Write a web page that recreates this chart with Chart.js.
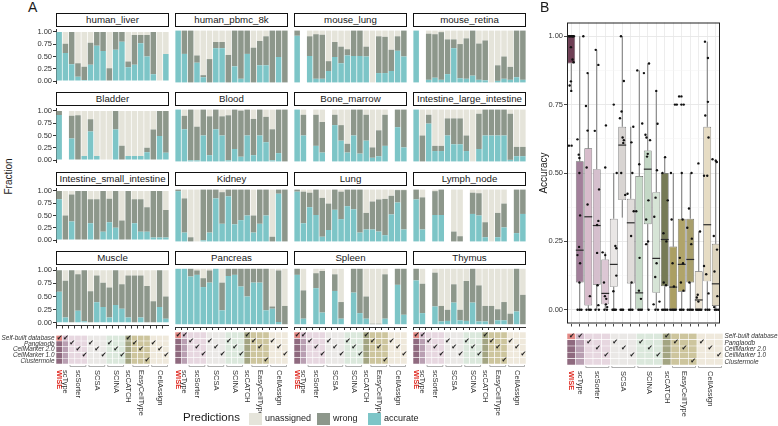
<!DOCTYPE html>
<html>
<head>
<meta charset="utf-8">
<script src="https://cdn.jsdelivr.net/npm/chart.js@4.4.1/dist/chart.umd.min.js"></script>
<style>
  body { margin: 0; background: #fff; }
  #fig { position: relative; width: 778px; height: 426px; overflow: hidden;
         font-family: 'Liberation Sans', Arial, Helvetica, sans-serif; color: #1a1a1a; }
  #fig canvas { position: absolute; display: block; }
  .strip { position: absolute; box-sizing: border-box; border: 1.4px solid #111; background: #fff;
           font-size: 9.7px; text-align: center; line-height: 11px; white-space: nowrap; overflow: hidden; }
  .txt { position: absolute; white-space: nowrap; }
  .sw { position: absolute; width: 13px; height: 12px; }
</style>
</head>
<body>
<div id="fig"></div>
<script>
// ---- data ----
const methods = ['WISE', 'scType', 'scSorter', 'scSorter', 'scSorter', 'SCSA', 'SCSA', 'SCSA',
  'SCINA', 'SCINA', 'SCINA', 'scCATCH', 'EasyCellType', 'EasyCellType', 'EasyCellType',
  'CellAssign', 'CellAssign', 'CellAssign'];
const databases = ['Self-built database', 'Panglaodb', 'CellMarker 2.0', 'CellMarker 1.0', 'Clustermole'];
// database row used by each method column
const dbUsed = [0, 0, 1, 2, 3, 1, 2, 3, 1, 2, 3, 0, 1, 2, 4, 1, 2, 3];

const tissues = ['human_liver', 'human_pbmc_8k', 'mouse_lung', 'mouse_retina',
  'Bladder', 'Blood', 'Bone_marrow', 'Intestine_large_intestine',
  'Intestine_small_intestine', 'Kidney', 'Lung', 'Lymph_node',
  'Muscle', 'Pancreas', 'Spleen', 'Thymus'];

// fraction accurate / fraction assigned (accurate + wrong); null = not run
const human_liver_acc = [1.00, 0.57, 0.34, 0.09, 0.02, 0.33, 0.72, 0.61, 0.00, 0.64, 0.80, 0.28, 0.33, 0.77, 0.50, 0.14, 0.00, 0.55];
const human_liver_asg = [1.00, 0.76, 1.00, 0.36, 0.29, 0.78, 1.00, 1.00, 0.26, 1.00, 1.00, 0.40, 0.94, 0.94, 0.94, 1.00, 0.00, 0.55];
const human_pbmc_acc = [1.00, 0.55, 0.00, 0.38, 0.10, 0.00, 0.66, 0.66, 0.00, 0.31, 0.07, 0.55, 0.00, 0.33, 0.33, 0.00, 0.49, 0.00];
const human_pbmc_asg = [1.00, 1.00, 1.00, 0.52, 0.14, 0.45, 0.78, 0.78, 0.53, 1.00, 1.00, 1.00, 0.67, 0.80, 0.89, 1.00, 1.00, 1.00];
const mouse_lung_acc = [0.90, null, 0.51, 0.07, 0.07, 0.22, 0.49, 0.37, 0.52, 0.51, 0.51, 0.50, 0.00, 0.18, 0.18, 0.22, 0.61, 0.50];
const mouse_lung_asg = [1.00, null, 0.89, 0.93, 0.92, 0.41, 0.78, 0.69, 0.64, 1.00, 1.00, 0.69, 0.00, 0.89, 0.88, 0.63, 0.89, 1.00];
const mouse_retina_acc = [1.00, null, 0.05, 0.09, 0.05, 0.16, 0.66, 0.08, 0.07, 0.13, 0.05, 0.04, 0.00, 0.03, 0.07, 0.05, 0.10, 0.05];
const mouse_retina_asg = [1.00, null, 0.94, 0.93, 0.97, 0.83, 0.83, 0.74, 0.85, 1.00, 0.75, 0.81, 0.00, 0.33, 0.50, 0.30, 1.00, 1.00];
const bladder_acc = [0.92, null, 0.44, 0.01, 0.08, 0.58, 0.08, 0.00, 0.00, 0.62, 0.00, 0.08, 0.08, 0.08, 0.16, 0.00, 0.49, 0.15];
const bladder_asg = [1.00, null, 0.90, 0.91, 0.08, 0.83, 0.08, 0.00, 0.00, 1.00, 0.29, 0.08, 0.08, 0.08, 0.25, 0.62, 1.00, 1.00];
const blood_acc = [1.00, 0.62, 0.02, 0.02, 0.50, 0.12, 0.62, 0.50, 0.02, 0.24, 0.09, 0.50, 0.12, 0.50, 0.37, 0.02, 0.16, 0.00];
const blood_asg = [1.00, 0.88, 1.00, 0.67, 1.00, 0.87, 1.00, 0.87, 0.89, 1.00, 0.98, 1.00, 0.82, 1.00, 0.86, 0.62, 1.00, 1.00];
const bone_marrow_acc = [1.00, 0.50, null, 0.30, 0.17, null, 0.70, 0.40, 0.17, 0.50, 0.15, 0.40, 0.07, 0.10, 0.30, null, 0.66, 0.27];
const bone_marrow_asg = [1.00, 0.90, null, 0.90, 0.76, null, 0.90, 0.70, 0.34, 1.00, 1.00, 0.90, 0.27, 0.60, 0.90, null, 1.00, 1.00];
const large_int_acc = [1.00, 0.00, 0.73, 0.20, 0.20, 0.50, 0.33, 0.33, 0.20, 0.00, 0.24, 0.50, 0.50, 0.50, 0.50, 0.03, 0.10, 0.10];
const large_int_asg = [1.00, 0.50, 0.90, 0.30, 0.30, 0.83, 0.83, 0.83, 0.50, 0.00, 0.92, 1.00, 1.00, 1.00, 1.00, 0.92, 0.28, 0.28];
const small_int_acc = [0.83, 0.00, 0.38, 0.00, 0.00, 0.34, 0.00, 0.17, 0.36, 0.25, 0.00, 0.00, 0.34, 0.17, 0.17, 0.05, 0.05, 0.05];
const small_int_asg = [1.00, 0.50, 0.93, 1.00, 1.00, 0.83, 0.83, 1.00, 0.84, 1.00, 0.40, 1.00, 0.83, 0.83, 0.67, 1.00, 1.00, 0.61];
const kidney_acc = [0.97, 0.17, 0.00, 0.00, 0.02, 0.17, 0.83, 0.34, 0.87, 0.33, 0.41, 0.50, 0.17, 0.34, 0.50, 0.00, 0.92, 0.00];
const kidney_asg = [1.00, 0.83, 0.08, 0.00, 1.00, 1.00, 1.00, 0.95, 1.00, 1.00, 1.00, 1.00, 0.50, 1.00, 1.00, 0.09, 1.00, 1.00];
const lung_acc = [0.96, 0.35, 0.66, 0.51, 0.09, 0.22, 0.61, 0.43, 0.68, 0.62, 0.17, 0.23, 0.23, 0.19, 0.12, 0.52, 0.75, 0.23];
const lung_asg = [1.00, 0.96, 0.94, 1.00, 0.84, 0.73, 1.00, 0.96, 1.00, 1.00, 1.00, 0.55, 0.77, 0.81, 0.82, 0.88, 0.99, 0.99];
const lymph_node_acc = [0.81, 0.23, null, 0.51, 0.51, null, 0.00, 0.00, null, 0.53, 0.50, 0.08, 0.00, 0.08, 0.27, null, 0.16, 0.53];
const lymph_node_asg = [1.00, 0.85, null, 0.97, 1.00, null, 0.19, 0.10, null, 0.94, 0.93, 0.37, 0.00, 0.55, 0.73, null, 1.00, 1.00];
const muscle_acc = [0.59, 0.10, 0.00, 0.23, 0.03, 0.00, 0.39, 0.30, 0.10, 0.34, 0.27, 0.10, 0.00, 0.10, 0.00, 0.00, 0.30, 0.08];
const muscle_asg = [1.00, 0.80, 1.00, 0.92, 1.00, 0.60, 0.90, 0.76, 0.67, 1.00, 0.73, 0.90, 0.90, 0.90, 0.70, 0.41, 1.00, 0.50];
const pancreas_acc = [1.00, 1.00, 0.86, 0.89, 0.67, 0.75, 1.00, 0.25, 0.87, 0.89, 0.68, 0.50, 0.75, 0.75, 0.25, 0.28, 0.04, 0.00];
const pancreas_asg = [1.00, 1.00, 1.00, 0.97, 0.83, 0.97, 1.00, 0.75, 1.00, 1.00, 1.00, 1.00, 1.00, 1.00, 1.00, 0.32, 0.97, 0.33];
const spleen_acc = [0.89, 0.10, null, 0.65, 0.21, null, 0.60, 0.10, null, 0.57, 0.20, 0.10, 0.00, 0.00, 0.10, null, 0.71, 0.17];
const spleen_asg = [1.00, 0.61, null, 0.92, 0.96, null, 0.90, 0.40, null, 1.00, 1.00, 0.50, 0.01, 0.01, 0.90, null, 1.00, 1.00];
const thymus_acc = [0.79, 0.20, null, 0.32, 0.05, 0.06, 0.39, 0.07, 0.06, 0.39, 0.05, 0.05, 0.00, 0.07, 0.07, 0.00, 0.23, 0.00];
const thymus_asg = [1.00, 0.73, null, 0.93, 0.33, 0.26, 0.72, 0.26, 0.78, 1.00, 0.70, 0.33, 0.33, 0.27, 0.40, 0.19, 1.00, 0.53];

// panel B box statistics (accuracy)
const boxQ1  = [0.90, 0.10, 0.016, 0.092, 0.02, 0.084, 0.401, 0.096, 0.00, 0.313, 0.062, 0.086, 0.00, 0.066, 0.10, 0.00, 0.104, 0.014];
const boxMed = [1.00, 0.218, 0.34, 0.308, 0.06, 0.166, 0.602, 0.318, 0.062, 0.514, 0.188, 0.257, 0.083, 0.166, 0.184, 0.036, 0.311, 0.095];
const boxQ3  = [1.00, 0.543, 0.59, 0.514, 0.184, 0.333, 0.669, 0.406, 0.489, 0.582, 0.43, 0.50, 0.231, 0.333, 0.333, 0.141, 0.669, 0.241];
const whiskLo = [0.80, 0, 0, 0, 0, 0, 0.337, 0, 0, 0, 0, 0, 0, 0, 0, 0, 0, 0];
const whiskHi = [1.00, 1.00, 0.865, 0.95, 0.21, 0.50, 1.00, 0.669, 0.875, 0.90, 0.80, 0.558, 0.50, 0.50, 0.50, 0.286, 0.98, 0.55];

// jittered points per method column: [x offset, accuracy]
const accuracyDots = [
  [[-0.3, 1], [-0.12, 1], [0.05, 1], [0.2, 1], [0.3, 1], [-0.2, 1], [0.12, 1], [-0.04, 0.96], [0.15, 0.915], [0.27, 0.905], [-0.04, 0.835], [-0.19, 0.82], [0, 0.80], [-0.27, 0.60], [0.04, 0.60]],
  [[0.42, 1], [-0.27, 0.623], [-0.12, 0.567], [-0.04, 0.555], [-0.04, 0.50], [0.04, 0.345], [-0.08, 0.23], [-0.27, 0.20], [0.04, 0.17], [-0.04, 0.10], [-0.25, 0], [0, 0], [0.2, 0]],
  [[-0.08, 0.865], [-0.27, 0.745], [-0.08, 0.655], [-0.19, 0.52], [-0.08, 0.385], [0.19, 0.05], [-0.2, 0], [0.1, 0], [0.3, 0]],
  [[-0.12, 0.95], [0.19, 0.895], [-0.23, 0.654], [0.27, 0.44], [0.19, 0.325], [0.04, 0.31], [0.04, 0.208], [0.1, 0.09], [0.19, 0.017], [-0.15, 0], [0.25, 0]],
  [[0.08, 0.674], [0, 0.52], [-0.31, 0.21], [0, 0.20], [-0.15, 0.10], [-0.04, 0.05], [0.12, 0.04], [0.08, 0.02], [0.23, 0.01], [-0.1, 0], [0.2, 0]],
  [[0, 0.75], [0.35, 0.50], [0.19, 0.233], [0.3, 0.225], [0.3, 0.125], [-0.04, 0.068], [-0.15, 0], [0, 0], [0.1, 0], [0.25, 0]],
  [[-0.15, 1], [0.19, 0.836], [-0.08, 0.725], [-0.27, 0.70], [0.04, 0.63], [0.19, 0.62], [0.12, 0.61], [-0.12, 0.50], [0.35, 0.42], [-0.2, 0], [-0.05, 0], [0.1, 0]],
  [[0.3, 0.669], [0.08, 0.612], [0.19, 0.50], [-0.38, 0.424], [0.35, 0.36], [0.04, 0.27], [0.1, 0.10], [-0.2, 0], [0, 0], [0.2, 0]],
  [[-0.23, 0.875], [0.35, 0.681], [0, 0.532], [-0.35, 0.36], [0.04, 0.19], [-0.04, 0.07], [0.2, 0.04], [-0.1, 0], [0.1, 0], [0.3, 0]],
  [[0.15, 0.90], [-0.45, 0.865], [-0.27, 0.64], [-0.15, 0.63], [0.27, 0.62], [0, 0.57], [-0.08, 0.56], [0.08, 0.40], [-0.19, 0.33], [0.04, 0.25], [-0.19, 0.24], [0.1, 0]],
  [[0, 0.80], [0.15, 0.68], [0.08, 0.51], [-0.08, 0.41], [-0.23, 0.34], [0.04, 0.17], [-0.12, 0.12], [-0.31, 0.02], [0.38, 0.03], [-0.1, 0], [0.2, 0]],
  [[0.04, 0.558], [-0.27, 0.50], [0.35, 0.40], [-0.15, 0.28], [0.19, 0.25], [-0.12, 0.10], [0.15, 0.09], [-0.3, 0], [-0.1, 0], [0.1, 0], [0.3, 0]],
  [[0.2, 0.75], [0.42, 0.75], [-0.27, 0.50], [-0.19, 0.33], [-0.08, 0.17], [0.08, 0.085], [-0.35, 0], [-0.15, 0], [0, 0], [0.15, 0], [0.3, 0]],
  [[-0.31, 0.78], [-0.04, 0.78], [-0.04, 0.75], [0.23, 0.75], [0, 0.50], [0.1, 0.33], [-0.23, 0.19], [0.15, 0.17], [-0.1, 0.10], [0.2, 0.07], [-0.2, 0], [0, 0], [0.2, 0]],
  [[0.15, 0.50], [-0.15, 0.37], [-0.35, 0.30], [0.19, 0.26], [0.12, 0.24], [-0.1, 0.10], [-0.3, 0], [-0.1, 0], [0.1, 0], [0.3, 0]],
  [[-0.04, 0.535], [0.15, 0.286], [-0.12, 0.055], [-0.23, 0.045], [-0.04, 0.03], [-0.3, 0], [-0.15, 0], [0, 0], [0.15, 0], [0.3, 0]],
  [[-0.27, 0.98], [0.08, 0.92], [0.08, 0.76], [-0.23, 0.71], [0.15, 0.63], [-0.38, 0.49], [0, 0.49], [-0.38, 0.16], [-0.12, 0.13], [0.15, 0.06], [-0.2, 0], [0.05, 0], [0.25, 0]],
  [[-0.38, 0.55], [0, 0.545], [0.12, 0.54], [-0.23, 0.27], [0.15, 0.22], [-0.15, 0.14], [0.19, 0.05], [-0.19, 0.01], [-0.1, 0], [0.1, 0], [0.3, 0]]
];

// ---- styles ----
const FONT = "'Liberation Sans', Arial, Helvetica, sans-serif";
const colAccurate = '#7dc5c7';
const colWrong = '#8d978b';
const colUnassigned = '#e5e4da';
const boxColors = ['#6e3f55', '#a27f9a', '#d7bccb', '#d5bfcd', '#dcc7d4', '#e9e6e5', '#d8d4d2', '#e0dcda',
  '#c6dac8', '#c4d8c6', '#d6e4d6', '#767a56', '#ab9f63', '#b0a46a', '#a89f6c', '#ebe3d2', '#e6dcc4', '#ddd4bd'];
const matBase = ['#8f6a7f', '#b99fb2', '#e7d7e0', '#e7d7e0', '#e7d7e0', '#eae8e6', '#eae8e6', '#eae8e6',
  '#dbe8dc', '#dbe8dc', '#dbe8dc', '#a3a582', '#cdc59d', '#cdc59d', '#cdc59d', '#efe9dc', '#efe9dc', '#efe9dc'];
const matChecked = ['#e38a86', '#d4bdcc', '#e7d7e0', '#e7d7e0', '#e7d7e0', '#eae8e6', '#eae8e6', '#eae8e6',
  '#dbe8dc', '#dbe8dc', '#dbe8dc', '#a3a582', '#cdc59d', '#cdc59d', '#cdc59d', '#efe9dc', '#efe9dc', '#efe9dc'];

const panelData = [
  [human_liver_acc, human_liver_asg], [human_pbmc_acc, human_pbmc_asg], [mouse_lung_acc, mouse_lung_asg], [mouse_retina_acc, mouse_retina_asg],
  [bladder_acc, bladder_asg], [blood_acc, blood_asg], [bone_marrow_acc, bone_marrow_asg], [large_int_acc, large_int_asg],
  [small_int_acc, small_int_asg], [kidney_acc, kidney_asg], [lung_acc, lung_asg], [lymph_node_acc, lymph_node_asg],
  [muscle_acc, muscle_asg], [pancreas_acc, pancreas_asg], [spleen_acc, spleen_asg], [thymus_acc, thymus_asg]
];

const fig = document.getElementById('fig');
const catLabels = methods.map((m, i) => m + '_' + i);
const colLeft = [56, 175, 294, 413];
const rowTop = [28, 107, 187, 266];
const PW = 113, PH = 61;

function addCanvas(left, top, w, h) {
  const c = document.createElement('canvas');
  c.width = w; c.height = h;
  c.style.left = left + 'px'; c.style.top = top + 'px';
  c.style.width = w + 'px'; c.style.height = h + 'px';
  fig.appendChild(c);
  return c;
}

function addText(text, left, top, css) {
  const d = document.createElement('div');
  d.className = 'txt';
  d.textContent = text;
  d.style.left = left + 'px';
  d.style.top = top + 'px';
  Object.assign(d.style, css || {});
  fig.appendChild(d);
  return d;
}

const fractionTicks = [0, 0.25, 0.5, 0.75, 1];

// ---- panel A: stacked prediction bars ----
function createPanel(idx) {
  const r = Math.floor(idx / 4), c = idx % 4;
  const [acc, asg] = panelData[idx];
  const showY = c === 0, showX = r === 3;
  const yW = showY ? 24 : 0;
  const canvas = addCanvas(colLeft[c] - yW, rowTop[r] - 4, PW + yW, PH + 4 + (showX ? 4 : 0));

  const strip = document.createElement('div');
  strip.className = 'strip';
  strip.textContent = tissues[idx];
  Object.assign(strip.style, { left: colLeft[c] + 'px', top: (rowTop[r] - 15) + 'px', width: PW + 'px', height: '13.5px' });
  fig.appendChild(strip);

  const common = { grouped: false, barPercentage: 0.88, categoryPercentage: 1, borderWidth: 0 };

  new Chart(canvas, {
    type: 'bar',
    data: {
      labels: catLabels,
      datasets: [
        { ...common, label: 'accurate', data: acc.map(v => v === null ? null : [0, v]), backgroundColor: colAccurate },
        { ...common, label: 'wrong', data: acc.map((v, i) => v === null ? null : [v, asg[i]]), backgroundColor: colWrong },
        { ...common, label: 'unassigned', data: asg.map(v => v === null ? null : [v, 1]), backgroundColor: colUnassigned }
      ]
    },
    options: {
      responsive: false, animation: false, devicePixelRatio: 1,
      layout: { padding: { top: 4, left: 0, right: 0, bottom: 0 } },
      plugins: { legend: { display: false }, tooltip: { enabled: false } },
      scales: {
        x: {
          display: showX,
          grid: { drawOnChartArea: false, drawTicks: true, tickLength: 3, tickColor: '#333' },
          border: { display: true, color: '#333', width: 1 },
          ticks: { display: false },
          afterFit: s => { s.height = 4; }
        },
        y: {
          display: showY, min: -0.05, max: 1.05,
          afterBuildTicks: s => { s.ticks = fractionTicks.map(v => ({ value: v })); },
          ticks: { callback: v => v.toFixed(2), font: { size: 7.5, family: FONT }, color: '#333', padding: 1 },
          grid: { drawOnChartArea: false, drawTicks: true, tickLength: 3, tickColor: '#333' },
          border: { display: true, color: '#333', width: 1 },
          afterFit: s => { s.width = yW; }
        }
      }
    }
  });
}

for (let i = 0; i < 16; i++) createPanel(i);

// ---- method / database matrices ----
const groups = [];
methods.forEach((m, i) => {
  const g = groups[groups.length - 1];
  if (g && g.name === m) g.last = i; else groups.push({ name: m, first: i, last: i });
});

const matrixDecor = {
  id: 'matrixDecor',
  afterDatasetsDraw(chart) {
    const { ctx, scales: { x, y } } = chart;
    ctx.save();
    ctx.fillStyle = '#1e1e1e';
    ctx.font = "bold 7px 'DejaVu Sans', sans-serif";
    ctx.textAlign = 'center';
    ctx.textBaseline = 'middle';
    dbUsed.forEach((row, i) => {
      ctx.fillText('\u2714', x.getPixelForValue(i) + 0.5, y.getPixelForValue(4.5 - row) - 0.5);
    });
    ctx.restore();
  },
  afterDraw(chart) {
    const { ctx, chartArea, scales: { x } } = chart;
    const cw = x.getPixelForValue(1) - x.getPixelForValue(0);
    ctx.save();
    // group brackets
    ctx.strokeStyle = '#9a9a9a';
    ctx.lineWidth = 0.8;
    groups.forEach(g => {
      if (g.last === g.first) return;
      const x0 = x.getPixelForValue(g.first) - cw / 2 + 1.5;
      const x1 = x.getPixelForValue(g.last) + cw / 2 - 1.5;
      const yb = chartArea.bottom + 2.5;
      ctx.beginPath();
      ctx.moveTo(x0, yb - 1.5); ctx.lineTo(x0, yb); ctx.lineTo(x1, yb); ctx.lineTo(x1, yb - 1.5);
      ctx.stroke();
    });
    // method labels, rotated to read top to bottom
    groups.forEach(g => {
      const xc = (x.getPixelForValue(g.first) + x.getPixelForValue(g.last)) / 2;
      ctx.save();
      ctx.translate(xc, chartArea.bottom + 6);
      ctx.rotate(Math.PI / 2);
      const wise = g.name === 'WISE';
      ctx.font = (wise ? 'bold ' : '') + '7.5px ' + FONT;
      ctx.fillStyle = wise ? '#e02b22' : '#333';
      ctx.textAlign = 'left';
      ctx.textBaseline = 'middle';
      ctx.fillText(g.name, 0, 0);
      ctx.restore();
    });
    ctx.restore();
  }
};

function createMatrix(left, top, width, height, yPos, labelW) {
  const yW = yPos ? labelW : 0;
  const canvas = addCanvas(left - (yPos === 'left' ? yW : 0), top - 2, width + yW, height + 2 + 58);
  const datasets = [];
  for (let row = 4; row >= 0; row--) {
    datasets.push({
      data: methods.map(() => 1),
      backgroundColor: methods.map((m, i) => dbUsed[i] === row ? matChecked[i] : matBase[i]),
      borderColor: '#ffffff', borderWidth: 0.6, borderSkipped: false,
      barPercentage: 1, categoryPercentage: 1
    });
  }
  new Chart(canvas, {
    type: 'bar',
    data: { labels: catLabels, datasets },
    options: {
      responsive: false, animation: false, devicePixelRatio: 1,
      layout: { padding: { top: 2, bottom: 58, left: 0, right: 0 } },
      plugins: { legend: { display: false }, tooltip: { enabled: false } },
      scales: {
        x: { stacked: true, display: false },
        y: {
          stacked: true, display: !!yPos, position: yPos || 'left', min: 0, max: 5,
          afterBuildTicks: s => { s.ticks = [4.5, 3.5, 2.5, 1.5, 0.5].map(v => ({ value: v })); },
          ticks: {
            autoSkip: false,
            callback: v => databases[Math.round(4.5 - v)],
            font: { size: 6.4, style: 'italic', family: FONT }, color: '#333', padding: 1.5
          },
          grid: { display: false, drawTicks: false },
          border: { display: false },
          afterFit: s => { s.width = yW; }
        }
      }
    },
    plugins: [matrixDecor]
  });
}

for (let c = 0; c < 4; c++) {
  createMatrix(colLeft[c], 332, PW, 32, c === 0 ? 'left' : null, 56);
}
createMatrix(567, 330, 156, 35, 'right', 55);

// ---- panel B: accuracy box plot ----
const boxExtras = {
  id: 'boxExtras',
  beforeDatasetsDraw(chart) {
    const { ctx, scales: { x, y } } = chart;
    ctx.save();
    ctx.strokeStyle = '#555';
    ctx.lineWidth = 0.8;
    boxQ1.forEach((q, i) => {
      const px = x.getPixelForValue(i);
      ctx.beginPath();
      ctx.moveTo(px, y.getPixelForValue(whiskLo[i])); ctx.lineTo(px, y.getPixelForValue(q));
      ctx.moveTo(px, y.getPixelForValue(boxQ3[i])); ctx.lineTo(px, y.getPixelForValue(whiskHi[i]));
      ctx.stroke();
    });
    ctx.restore();
  },
  afterDatasetDraw(chart, args) {
    if (args.index !== 1) return;
    const { ctx, scales: { y } } = chart;
    const meta = chart.getDatasetMeta(1);
    ctx.save();
    ctx.strokeStyle = '#2b2b2b';
    ctx.lineWidth = 1.2;
    meta.data.forEach((el, i) => {
      const py = y.getPixelForValue(boxMed[i]);
      ctx.beginPath();
      ctx.moveTo(el.x - el.width / 2, py); ctx.lineTo(el.x + el.width / 2, py);
      ctx.stroke();
    });
    ctx.restore();
  },
  afterDraw(chart) {
    const { ctx, chartArea: a } = chart;
    ctx.save();
    ctx.strokeStyle = '#222';
    ctx.lineWidth = 1;
    ctx.strokeRect(a.left + 0.5, a.top + 0.5, a.right - a.left - 1, a.bottom - a.top - 1);
    ctx.restore();
  }
};

const accTicks = [0, 0.125, 0.25, 0.375, 0.5, 0.625, 0.75, 0.875, 1];
const isMajor = v => Math.abs(v * 4 - Math.round(v * 4)) < 1e-6;

const bCanvas = addCanvas(538, 17, 186, 312);
new Chart(bCanvas, {
  type: 'bar',
  data: {
    labels: catLabels,
    datasets: [
      {
        type: 'scatter', xAxisID: 'xj', yAxisID: 'y', order: 0,
        data: accuracyDots.flatMap((arr, i) => arr.map(([dx, v]) => ({ x: i + dx, y: v }))),
        pointRadius: 1.2, pointBackgroundColor: '#111', pointBorderWidth: 0
      },
      {
        type: 'bar', order: 1, xAxisID: 'x', yAxisID: 'y', grouped: false,
        data: boxQ1.map((q, i) => [q, boxQ3[i]]),
        backgroundColor: boxColors, borderColor: '#585858', borderWidth: 0.7, borderSkipped: false,
        barPercentage: 0.92, categoryPercentage: 1
      }
    ]
  },
  options: {
    responsive: false, animation: false, devicePixelRatio: 1,
    layout: { padding: { top: 0, right: 1, left: 0, bottom: 0 } },
    plugins: { legend: { display: false }, tooltip: { enabled: false } },
    scales: {
      x: {
        grid: { offset: false, color: '#ebebeb', lineWidth: 0.9, drawTicks: true, tickLength: 3, tickColor: '#333' },
        border: { display: false },
        ticks: { display: false },
        afterFit: s => { s.height = 4; }
      },
      xj: { type: 'linear', display: false, offset: false, grid: { offset: false }, min: -0.5, max: 17.5 },
      y: {
        min: -0.05, max: 1.05,
        afterBuildTicks: s => { s.ticks = accTicks.map(v => ({ value: v })); },
        ticks: { callback: v => isMajor(v) ? v.toFixed(2) : '', font: { size: 7.5, family: FONT }, color: '#333', padding: 1, autoSkip: false },
        grid: {
          color: ctx => isMajor(ctx.tick.value) ? '#e6e6e6' : '#f2f2f2',
          lineWidth: ctx => isMajor(ctx.tick.value) ? 0.9 : 0.5,
          tickColor: ctx => isMajor(ctx.tick.value) ? '#333' : 'rgba(0,0,0,0)',
          drawTicks: true, tickLength: 3
        },
        border: { display: false },
        title: { display: true, text: 'Accuracy', font: { size: 10, family: FONT }, color: '#1a1a1a', padding: { top: 0, bottom: 0 } },
        afterFit: s => { s.width = 29; }
      }
    }
  },
  plugins: [boxExtras]
});

// ---- titles and legend ----
addText('A', 28, -1, { fontSize: '14px' });
addText('B', 540, -1, { fontSize: '14px' });
addText('Fraction', -12, 171, { fontSize: '10px', transform: 'rotate(-90deg)', width: '40px', textAlign: 'center' });

addText('Predictions', 183, 411, { fontSize: '11.5px' });
const legendItems = [['unassigned', colUnassigned, 249], ['wrong', colWrong, 317], ['accurate', colAccurate, 368]];
legendItems.forEach(([name, color, x]) => {
  const sw = document.createElement('div');
  sw.className = 'sw';
  Object.assign(sw.style, { left: x + 'px', top: '413px', background: color });
  fig.appendChild(sw);
  addText(name, x + 16, 413, { fontSize: '9px' });
});
</script>
</body>
</html>
